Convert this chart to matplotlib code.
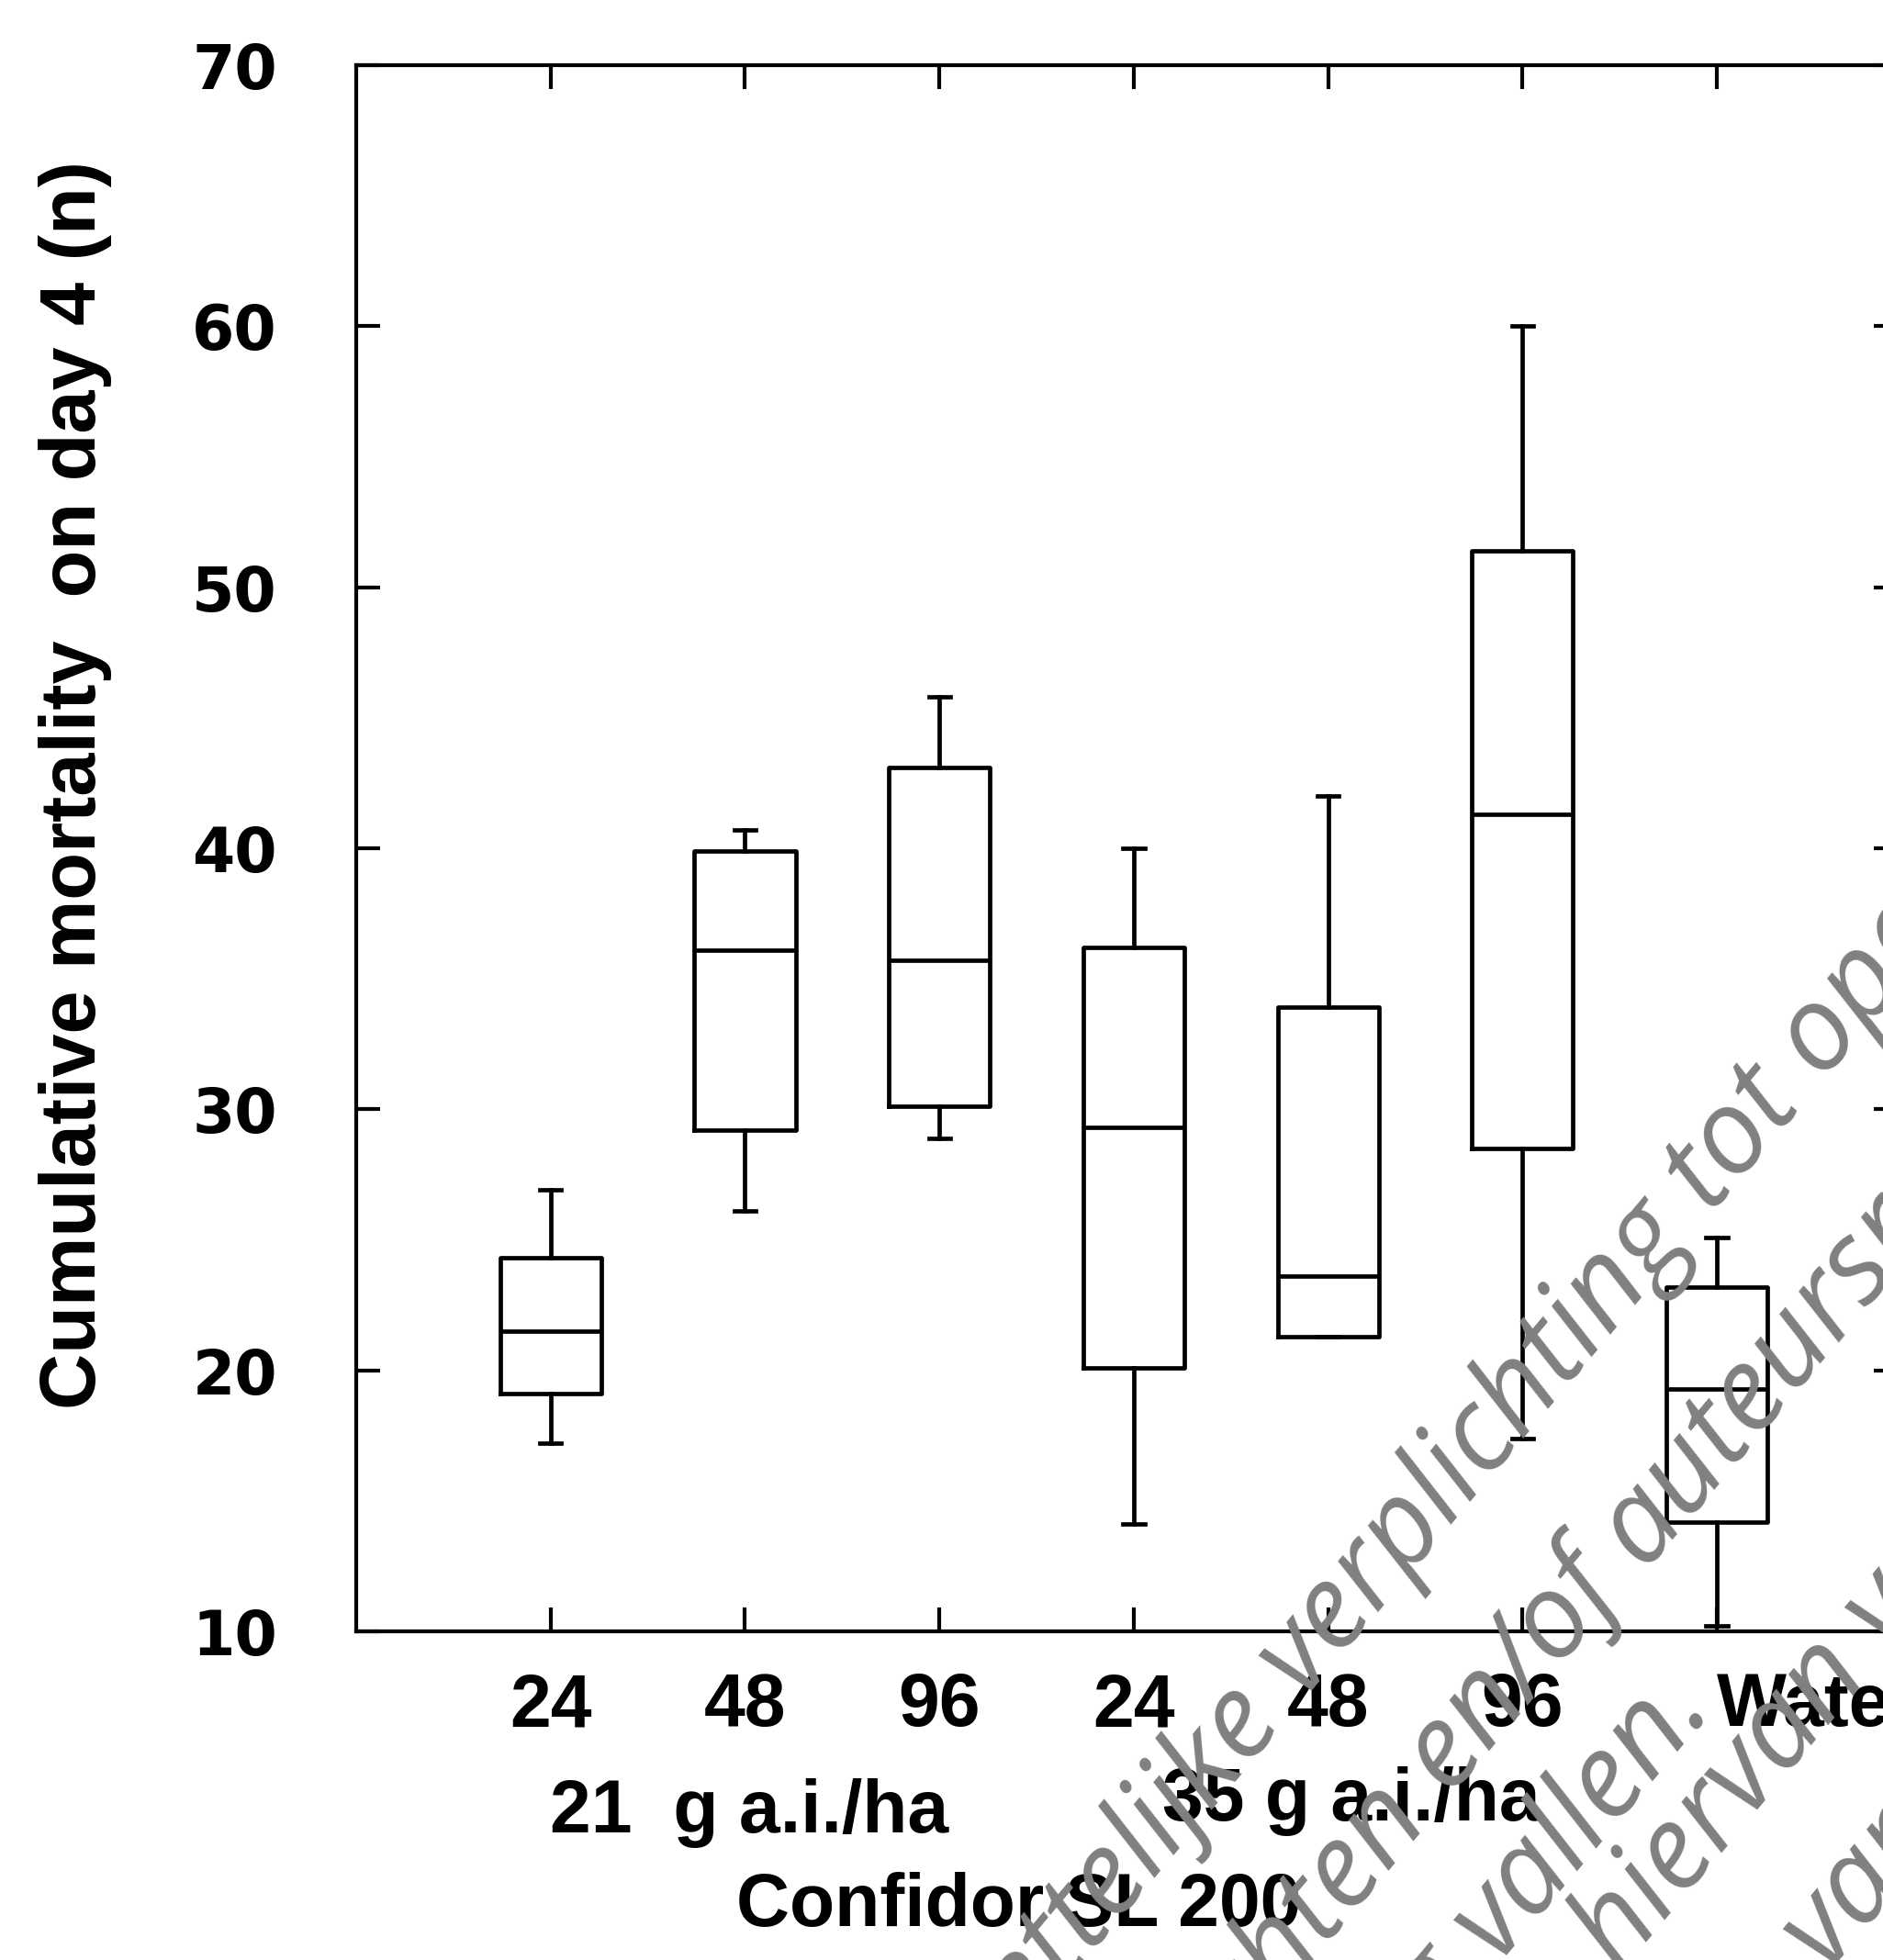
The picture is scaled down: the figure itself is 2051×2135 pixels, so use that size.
import matplotlib
matplotlib.use("Agg")
import matplotlib.pyplot as plt
from matplotlib import transforms

# ---- data ----
x_labels = ["24", "48", "96", "24", "48", "96", "Water"]
whis_lo = [17.2, 26.1, 28.9, 14.1, 21.3, 17.4, 10.2]
q1      = [19.1, 29.2, 30.1, 20.1, 21.3, 28.5, 14.2]
median  = [21.5, 36.1, 35.7, 29.3, 23.6, 41.3, 19.3]
q3      = [24.3, 39.9, 43.1, 36.2, 33.9, 51.4, 23.2]
whis_hi = [26.9, 40.7, 45.8, 40.0, 42.0, 60.0, 25.1]

dose_labels = ["21  g a.i./ha", "35 g a.i./ha"]
product_label = "Confidor SL 200"
y_label = "Cumulative mortality  on day 4 (n)"
y_ticks = [10, 20, 30, 40, 50, 60, 70]

watermark = [
    ("wettelijke ", "verplichting tot openbaarmaking"),
    ("rechten en/of ", "auteursrechten"),
    ("verplichting ", "vallen."),
    ("", "hiervan voor"),
    ("", "van"),
]

# ---- figure ----
W, H = 2051, 2135
fig = plt.figure(figsize=(W / 100, H / 100), dpi=100)
ax = fig.add_axes([388 / W, 0.1677, 1679 / W, 0.799])

stats = []
for i in range(len(x_labels)):
    stats.append(dict(med=median[i], q1=q1[i], q3=q3[i],
                      whislo=whis_lo[i], whishi=whis_hi[i], fliers=[]))

lw = 3.4
ax.bxp(stats, positions=range(1, len(stats) + 1), widths=0.52, capwidths=0.11,
       showfliers=False, patch_artist=False,
       boxprops=dict(color="black", linewidth=lw),
       whiskerprops=dict(color="black", linewidth=lw),
       capprops=dict(color="black", linewidth=lw),
       medianprops=dict(color="black", linewidth=lw))

ax.set_xlim(0, 7.93)
ax.set_ylim(10, 70)

for s in ax.spines.values():
    s.set_linewidth(3.0)

ax.set_yticks(y_ticks)
ax.set_yticklabels([str(t) for t in y_ticks], fontfamily="DejaVu Sans",
                   fontweight="bold", fontsize=48)
ax.tick_params(axis="y", direction="in", length=19, width=3.0, pad=62,
               left=True, right=True)

ax.set_xticks(range(1, len(x_labels) + 1))
ax.set_xticklabels(x_labels, fontfamily="Liberation Sans", fontweight="bold",
                   fontsize=58)
ax.tick_params(axis="x", direction="in", length=19, width=3.0, pad=32,
               bottom=True, top=True)
ax.get_xticklabels()[-1].set_horizontalalignment("left")

# y label placed in figure pixels
fig.text(122 / W, 1 - 855 / H, y_label, rotation=90, rotation_mode="anchor",
         ha="center", va="bottom", fontfamily="Liberation Sans",
         fontweight="bold", fontsize=61)

# group labels under the ticks
trans = transforms.blended_transform_factory(ax.transData, fig.transFigure)
fig.text(2.02, 1 - 1975 / H, dose_labels[0], transform=trans, ha="center",
         va="center", fontfamily="Liberation Sans", fontweight="bold", fontsize=58)
fig.text(5.12, 1 - 1962 / H, dose_labels[1], transform=trans, ha="center",
         va="center", fontfamily="Liberation Sans", fontweight="bold", fontsize=58)
fig.text(3.41, 1 - 2077 / H, product_label, transform=trans, ha="center",
         va="center", fontfamily="Liberation Sans", fontweight="bold", fontsize=58)

# grey diagonal watermark of the scanned page
anchors = [(1420, 1852), (1790, 1708), (1630, 2136), (1764, 2150), (1989, 2145)]
for (left, right), (px, py) in zip(watermark, anchors):
    kw = dict(transform=None, rotation=50, rotation_mode="anchor",
              va="baseline", color="#808080", fontsize=92,
              fontfamily="Open Sans", fontstyle="italic", zorder=5)
    if left:
        fig.text(px, H - py, left, ha="right", **kw)
    fig.text(px, H - py, right, ha="left", **kw)

fig.savefig("out.png", dpi=100)
